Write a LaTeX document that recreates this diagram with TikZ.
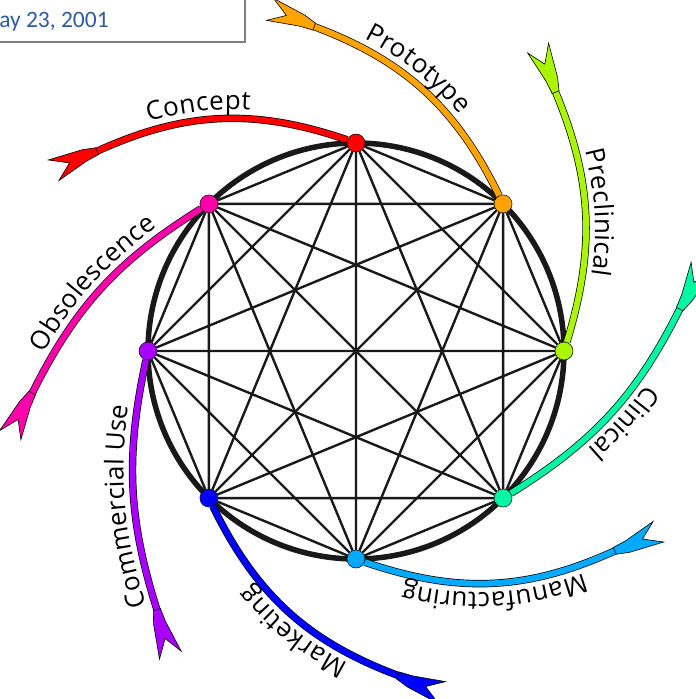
\documentclass[tikz,border=0pt]{standalone}
\usepackage{fontspec}
\setmainfont{Open Sans}
\newfontfamily\datefont{Carlito}
\usetikzlibrary{decorations.markings, decorations.text, backgrounds}

\definecolor{conceptred}{HTML}{FF0000}
\definecolor{protoorange}{HTML}{FFA300}
\definecolor{preclime}{HTML}{AAF500}
\definecolor{clingreen}{HTML}{00F8A4}
\definecolor{manufblue}{HTML}{00AAFF}
\definecolor{marketblue}{HTML}{0000FF}
\definecolor{commpurple}{HTML}{AA00FF}
\definecolor{obsolpink}{HTML}{FF00AA}
\definecolor{dateblue}{HTML}{2E5C9E}
\newcommand{\phasefont}{\fontsize{26}{30}\selectfont}

\begin{document}
\begin{tikzpicture}[
    x=1pt, y=1pt,
    dot/.style={circle, draw=black, line width=0.5pt, inner sep=0pt, minimum size=18pt},
    chord/.style={line width=2.4pt, color=black!90},
    ring/.style={line width=5.5pt, color=black!90},
    % #1 colour, #2 label, #3 label shift towards the free end
    phase/.style n args={3}{line width=6pt, color=#1,
        preaction={draw=black, line width=7.4pt},
        % fletching at the free end
        postaction={decorate, decoration={markings, mark=at position 0.001 with {
            \draw[fill=#1, draw=black, line width=0.6pt, line join=miter]
                (6,3.7) -- (-7,7.6) -- (-42,12.7) -- (-24,1) -- (-41,-10.4)
                -- (-8,-4.6) -- (6,-3.7) -- cycle;}}},
        postaction={decorate, decoration={text along path, text={|\phasefont|#2},
                    text color=black, text align={align=center, right indent=#3}, raise=9pt}}}
]
\useasboundingbox (-356,-348) rectangle (340,351);

% Date box (cut off by the page)
\draw[gray, line width=1.5pt, fill=white] (-361,356) rectangle (-111,309);
\node[anchor=base west, inner sep=0pt, text=dateblue,
      font=\datefont\fontsize{23.5}{27}\selectfont] (date) at (-377,323) {May 23, 2001};

% Stages on the wheel
\node[dot, fill=conceptred]  (concept) at (90:208)   {};
\node[dot, fill=protoorange] (proto)   at (45:208)   {};
\node[dot, fill=preclime]    (precl)   at (0:208)    {};
\node[dot, fill=clingreen]   (clin)    at (-45:208)  {};
\node[dot, fill=manufblue]   (manuf)   at (-90:208)  {};
\node[dot, fill=marketblue]  (market)  at (-135:208) {};
\node[dot, fill=commpurple]  (comm)    at (180:208)  {};
\node[dot, fill=obsolpink]   (obsol)   at (135:208)  {};

% Free ends of the arcs
\coordinate (conceptEnd) at (143.3:330);
\coordinate (protoEnd)   at (98.3:330);
\coordinate (preclEnd)   at (53.3:330);
\coordinate (clinEnd)    at (8.3:330);
\coordinate (manufEnd)   at (-36.7:330);
\coordinate (marketEnd)  at (-81.7:330);
\coordinate (commEnd)    at (-126.7:330);
\coordinate (obsolEnd)   at (188.3:330);

% Ring and all chords
\begin{scope}[on background layer]
    \draw[ring] (0,0) circle (208);
    \draw[chord] (concept) -- (proto) (concept) -- (precl) (concept) -- (clin) (concept) -- (manuf)
                 (concept) -- (market) (concept) -- (comm) (concept) -- (obsol);
    \draw[chord] (proto) -- (precl) (proto) -- (clin) (proto) -- (manuf) (proto) -- (market)
                 (proto) -- (comm) (proto) -- (obsol);
    \draw[chord] (precl) -- (clin) (precl) -- (manuf) (precl) -- (market) (precl) -- (comm)
                 (precl) -- (obsol);
    \draw[chord] (clin) -- (manuf) (clin) -- (market) (clin) -- (comm) (clin) -- (obsol);
    \draw[chord] (manuf) -- (market) (manuf) -- (comm) (manuf) -- (obsol);
    \draw[chord] (market) -- (comm) (market) -- (obsol);
    \draw[chord] (comm) -- (obsol);
\end{scope}

% Labelled arcs
\draw[phase={conceptred}{Concept}{36pt}]        (conceptEnd) to[bend left=22] (concept);
\draw[phase={protoorange}{Prototype}{32pt}]     (protoEnd)   to[bend left=22] (proto);
\draw[phase={preclime}{Preclinical}{0pt}]       (preclEnd)   to[bend left=20] (precl);
\draw[phase={clingreen}{Clinical}{0pt}]         (clinEnd)    to[bend left=16] (clin);
\draw[phase={manufblue}{Manufacturing}{0pt}]    (manufEnd)   to[bend left=22] (manuf);
\draw[phase={marketblue}{Marketing}{30pt}]      (marketEnd)  to[bend left=22] (market);
\draw[phase={commpurple}{Commercial Use}{34pt}] (commEnd)    to[bend left=15] (comm);
\draw[phase={obsolpink}{Obsolescence}{0pt}]     (obsolEnd)   to[bend left=16] (obsol);
\end{tikzpicture}
\end{document}
